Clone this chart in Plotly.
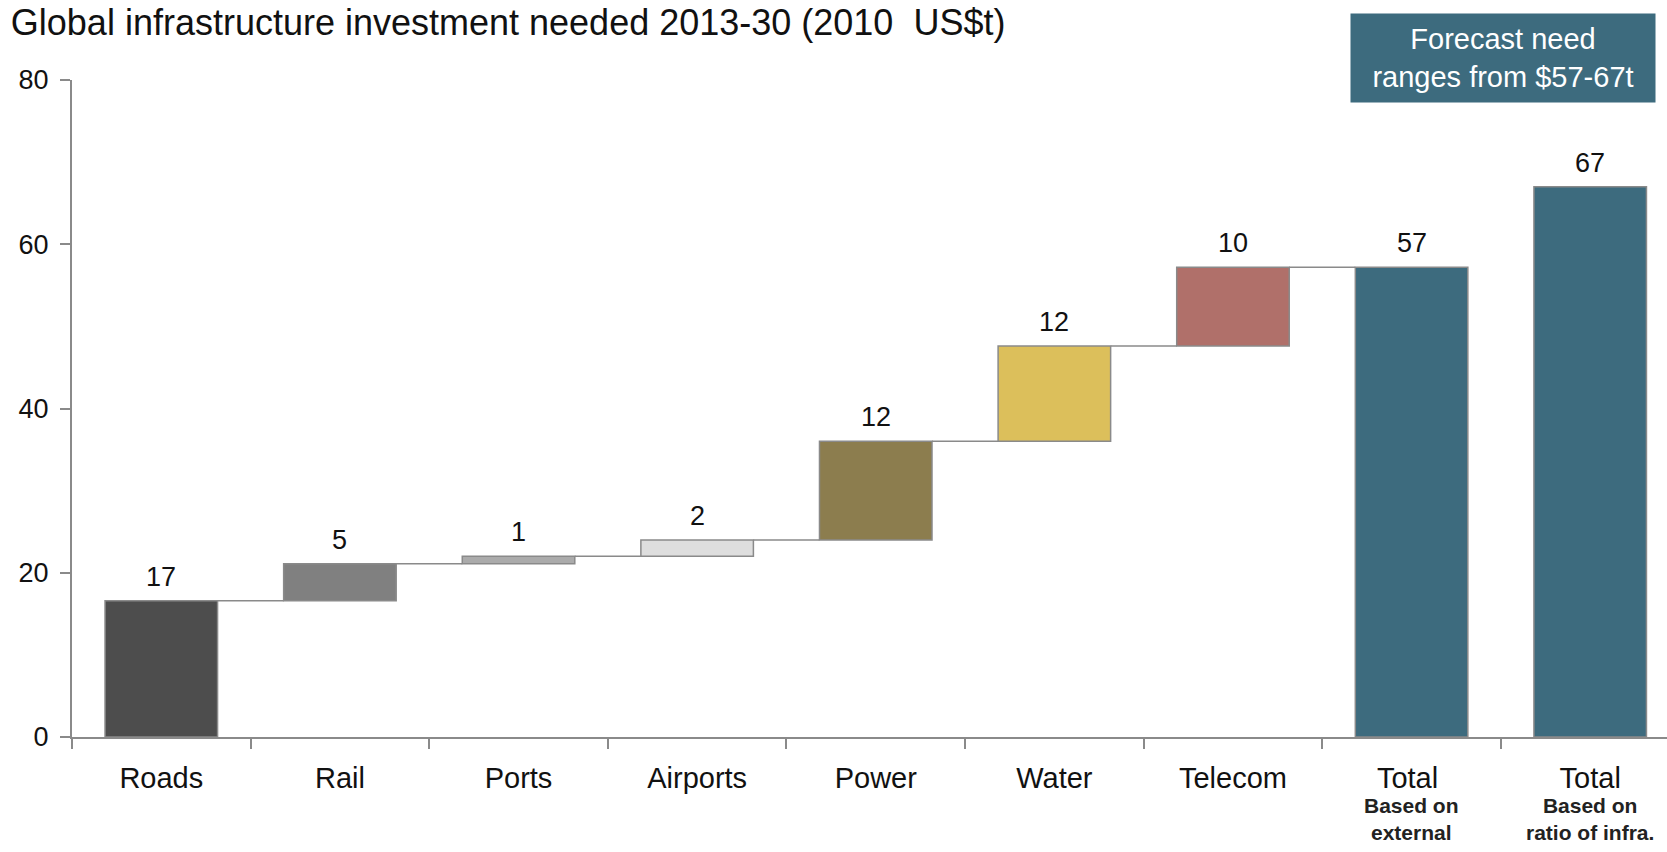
import plotly.graph_objects as go

# ---- data ----
categories = ["Roads", "Rail", "Ports", "Airports", "Power", "Water", "Telecom", "Total ", "Total"]
step_values = [16.6, 4.5, 0.9, 2.0, 12.0, 11.6, 9.6]
total_values = [57.2, 67.0]
value_labels = ["17", "5", "1", "2", "12", "12", "10", "57", "67"]
sub_labels = ["", "", "", "", "", "", "", "Based on<br>external", "Based on<br>ratio of infra."]
bar_colors = ["#4d4d4d", "#808080", "#ababab", "#dedede", "#8c7d4e",
              "#dcbf5b", "#b0706a", "#3d6b7e", "#3d6b7e"]
title_text = "Global infrastructure investment needed 2013-30 (2010  US$t)"
box_text = "Forecast need<br>ranges from $57-67t"

# ---- derived ----
bases, heights = [], []
cum = 0.0
for v in step_values:
    bases.append(cum)
    heights.append(v)
    cum += v
for t in total_values:
    bases.append(0.0)
    heights.append(t)
tops = [b + h for b, h in zip(bases, heights)]

FONT = "Liberation Sans, Arial, sans-serif"
BAR_W = 0.63

fig = go.Figure()
fig.add_trace(go.Bar(
    x=categories, y=heights, base=bases, width=BAR_W,
    marker=dict(color=bar_colors, line=dict(color="#8a8a8a", width=1.5)),
    hoverinfo="skip", showlegend=False,
))

shapes = []
n_steps = len(step_values)
for i in range(n_steps):
    level = tops[i]
    shapes.append(dict(type="line", xref="x", yref="y",
                       x0=i + BAR_W / 2, x1=i + 1 - BAR_W / 2, y0=level, y1=level,
                       line=dict(color="#8a8a8a", width=1.5), layer="below"))

annotations = []
for i, (cat, top, lab) in enumerate(zip(categories, tops, value_labels)):
    annotations.append(dict(x=i, y=top, xref="x", yref="y", text=lab,
                            showarrow=False, yanchor="bottom", yshift=7,
                            font=dict(family=FONT, size=27, color="#111111")))
for i, sl in enumerate(sub_labels):
    if sl:
        annotations.append(dict(x=i, y=-0.083, xref="x", yref="paper",
                                text="<b>" + sl.replace("<br>", "</b><br><b>") + "</b>",
                                showarrow=False, yanchor="top",
                                font=dict(family=FONT, size=21, color="#222222")))
annotations.append(dict(x=0.897, y=1.0335, xref="paper", yref="paper", text=box_text,
                        showarrow=False, xanchor="center", yanchor="middle",
                        width=292, height=76, borderpad=6, bgcolor="#3d6b7e",
                        font=dict(family=FONT, size=29, color="#ffffff")))

fig.update_layout(
    width=1667, height=852,
    margin=dict(l=72, r=0, t=80, b=115),
    paper_bgcolor="white", plot_bgcolor="white",
    title=dict(text=title_text, xref="container", yref="container",
               x=0.0065, xanchor="left", y=1 - 22 / 852, yanchor="middle",
               font=dict(family=FONT, size=36, color="#111111")),
    xaxis=dict(type="category", range=[-0.5, 8.43], showline=True,
               linecolor="#8a8a8a", linewidth=2, ticks="outside", tickson="boundaries",
               ticklen=10, tickwidth=2, tickcolor="#8a8a8a", showgrid=False,
               ticklabelstandoff=14,
               tickfont=dict(family=FONT, size=29, color="#111111")),
    yaxis=dict(range=[0, 80], dtick=20, showline=True, linecolor="#8a8a8a",
               linewidth=2, ticks="outside", ticklen=10, tickwidth=2,
               tickcolor="#8a8a8a", showgrid=False, zeroline=False,
               ticklabelstandoff=6,
               tickfont=dict(family=FONT, size=27, color="#111111")),
    shapes=shapes, annotations=annotations,
    font=dict(family=FONT),
)

fig.write_html("out.html")
